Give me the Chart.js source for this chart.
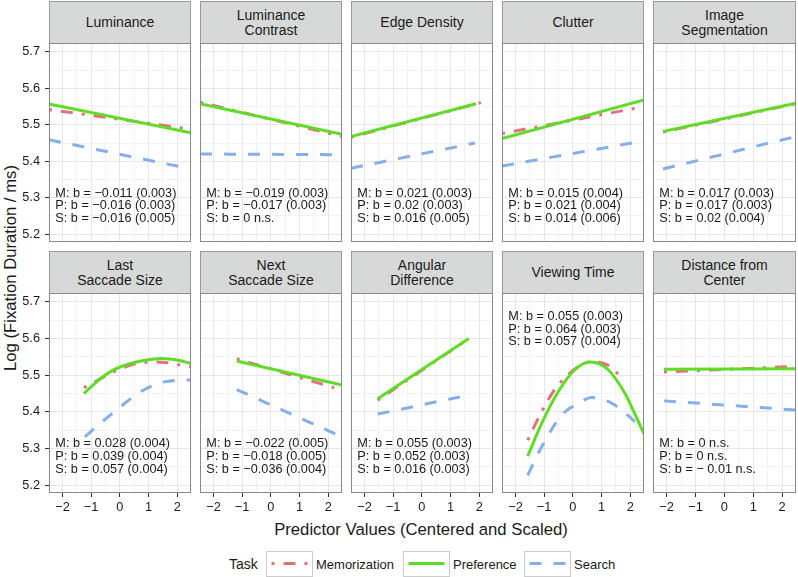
<!DOCTYPE html>
<html><head><meta charset="utf-8">
<script src="https://cdn.jsdelivr.net/npm/chart.js@4/dist/chart.umd.min.js"></script>
<style>
html,body{margin:0;padding:0;background:#fff;}
body{width:798px;height:577px;overflow:hidden;position:relative;font-family:"Liberation Sans",Arial,Helvetica,sans-serif;color:#1a1a1a;}
.strip{position:absolute;box-sizing:border-box;background:#d7d9d9;border:1px solid #9a9a9a;display:flex;align-items:center;justify-content:center;text-align:center;font-size:14px;line-height:14.3px;white-space:pre-line;color:#1a1a1a;}
canvas{position:absolute;}
.ytitle{position:absolute;left:11px;top:268px;transform:translate(-50%,-50%) rotate(-90deg);font-size:16.7px;white-space:nowrap;}
.xtitle{position:absolute;left:421px;top:530px;transform:translate(-50%,-50%);font-size:16.7px;white-space:nowrap;}
.legtxt{position:absolute;top:563.5px;transform:translateY(-50%);font-size:13px;white-space:nowrap;}
.legtitle{position:absolute;top:563.5px;transform:translateY(-50%);font-size:14px;white-space:nowrap;}
svg.key{position:absolute;top:551px;}
</style></head><body>
<div class="ytitle">Log (Fixation Duration / ms)</div>
<div class="xtitle">Predictor Values (Centered and Scaled)</div>
<script>
// ---------- data ----------
const taskNames = ['Memorization', 'Preference', 'Search'];
const panelTitles = ['Luminance', 'Luminance\nContrast', 'Edge Density', 'Clutter', 'Image\nSegmentation',
  'Last\nSaccade Size', 'Next\nSaccade Size', 'Angular\nDifference', 'Viewing Time', 'Distance from\nCenter'];
const xTickValues = [-2, -1, 0, 1, 2];
const xTickLabels = ['\u22122', '\u22121', '0', '1', '2'];
const xMinorValues = [-1.5, -0.5, 0.5, 1.5];
const yTickValues = [5.2, 5.3, 5.4, 5.5, 5.6, 5.7];
const yTickLabels = ['5.2', '5.3', '5.4', '5.5', '5.6', '5.7'];
const yMinorValues = [5.25, 5.35, 5.45, 5.55, 5.65];

const luminanceMem = [[-2.47, 5.542], [2.48, 5.488]];
const luminancePref = [[-2.47, 5.557], [2.48, 5.478]];
const luminanceSearch = [[-2.47, 5.459], [2.48, 5.379]];
const contrastMem = [[-2.47, 5.562], [2.48, 5.468]];
const contrastPref = [[-2.47, 5.558], [2.48, 5.474]];
const contrastSearch = [[-2.47, 5.420], [2.48, 5.418]];
const edgeMem = [[-2.47, 5.466], [2.06, 5.561]];
const edgePref = [[-2.47, 5.468], [1.89, 5.558]];
const edgeSearch = [[-2.47, 5.381], [1.85, 5.450]];
const clutterMem = [[-2.47, 5.476], [2.48, 5.550]];
const clutterPref = [[-2.47, 5.462], [2.48, 5.568]];
const clutterSearch = [[-2.47, 5.387], [2.48, 5.456]];
const segMem = [[-2.12, 5.480], [2.48, 5.558]];
const segPref = [[-2.12, 5.482], [2.48, 5.559]];
const segSearch = [[-2.12, 5.379], [2.48, 5.468]];
const lastSacMem = [[-1.25, 5.466], [-0.87, 5.482], [-0.58, 5.495], [0.06, 5.519], [0.47, 5.530], [0.875, 5.535], [1.3, 5.536], [1.57, 5.535], [2.04, 5.529], [2.48, 5.523]];
const lastSacPref = [[-1.25, 5.450], [-0.87, 5.478], [-0.285, 5.512], [0.293, 5.530], [0.875, 5.541], [1.46, 5.546], [2.04, 5.541], [2.48, 5.532]];
const lastSacSearch = [[-1.22, 5.332], [-0.69, 5.368], [-0.055, 5.409], [0.70, 5.454], [1.40, 5.479], [1.95, 5.486], [2.48, 5.487]];
const nextSacMem = [[-1.19, 5.545], [2.2, 5.466]];
const nextSacPref = [[-1.19, 5.539], [2.48, 5.473]];
const nextSacSearch = [[-1.19, 5.461], [2.3, 5.338]];
const angularMem = [[-1.54, 5.432], [1.64, 5.600]];
const angularPref = [[-1.54, 5.436], [1.64, 5.600]];
const angularSearch = [[-1.54, 5.394], [1.34, 5.441]];
const viewMem = [[-1.575, 5.323], [-1.09, 5.400], [-0.65, 5.459], [0.07, 5.517], [0.6, 5.536], [1.23, 5.527], [1.79, 5.486]];
const viewPref = [[-1.575, 5.279], [-1.09, 5.368], [-0.51, 5.455], [0.07, 5.515], [0.6, 5.536], [1.23, 5.515], [1.82, 5.450], [2.1, 5.405], [2.48, 5.340]];
const viewSearch = [[-1.575, 5.227], [-1.09, 5.304], [-0.39, 5.391], [0.19, 5.423], [0.65, 5.439], [1.35, 5.424], [2.04, 5.382], [2.16, 5.373]];
const distMem = [[-2.09, 5.509], [2.19, 5.523]];
const distPref = [[-2.09, 5.516], [2.48, 5.518]];
const distSearch = [[-2.09, 5.430], [2.48, 5.405]];

const luminanceNotes = ['M: b = \u22120.011 (0.003)', 'P: b = \u22120.016 (0.003)', 'S: b = \u22120.016 (0.005)'];
const contrastNotes = ['M: b = \u22120.019 (0.003)', 'P: b = \u22120.017 (0.003)', 'S: b = 0 n.s.'];
const edgeNotes = ['M: b = 0.021 (0.003)', 'P: b = 0.02 (0.003)', 'S: b = 0.016 (0.005)'];
const clutterNotes = ['M: b = 0.015 (0.004)', 'P: b = 0.021 (0.004)', 'S: b = 0.014 (0.006)'];
const segNotes = ['M: b = 0.017 (0.003)', 'P: b = 0.017 (0.003)', 'S: b = 0.02 (0.004)'];
const lastSacNotes = ['M: b = 0.028 (0.004)', 'P: b = 0.039 (0.004)', 'S: b = 0.057 (0.004)'];
const nextSacNotes = ['M: b = \u22120.022 (0.005)', 'P: b = \u22120.018 (0.005)', 'S: b = \u22120.036 (0.004)'];
const angularNotes = ['M: b = 0.055 (0.003)', 'P: b = 0.052 (0.003)', 'S: b = 0.016 (0.003)'];
const viewNotes = ['M: b = 0.055 (0.003)', 'P: b = 0.064 (0.003)', 'S: b = 0.057 (0.004)'];
const distNotes = ['M: b = 0 n.s.', 'P: b = 0 n.s.', 'S: b = \u2212 0.01 n.s.'];

// ---------- assembly ----------
const panelSeries = [
  [luminanceMem, luminancePref, luminanceSearch],
  [contrastMem, contrastPref, contrastSearch],
  [edgeMem, edgePref, edgeSearch],
  [clutterMem, clutterPref, clutterSearch],
  [segMem, segPref, segSearch],
  [lastSacMem, lastSacPref, lastSacSearch],
  [nextSacMem, nextSacPref, nextSacSearch],
  [angularMem, angularPref, angularSearch],
  [viewMem, viewPref, viewSearch],
  [distMem, distPref, distSearch]
];
const panelNotes = [luminanceNotes, contrastNotes, edgeNotes, clutterNotes, segNotes,
  lastSacNotes, nextSacNotes, angularNotes, viewNotes, distNotes];
const noteYs = [5.278, 5.278, 5.278, 5.278, 5.278, 5.278, 5.278, 5.278, 5.626, 5.278];

const FONT = '"Liberation Sans", Arial, Helvetica, sans-serif';
const taskStyles = [
  {color: '#e6707a', width: 3, dash: [3, 9, 12, 9], order: 3},
  {color: '#5fdc26', width: 3, dash: [], order: 2},
  {color: '#85aeea', width: 3, dash: [12, 12], order: 1}
];

const deco = {
  id: 'deco',
  afterDatasetsDraw(chart, args, o) {
    const ctx = chart.ctx, a = chart.chartArea;
    ctx.save();
    ctx.font = '12.7px ' + FONT;
    ctx.fillStyle = '#1a1a1a';
    ctx.textBaseline = 'middle';
    ctx.textAlign = 'left';
    const x = chart.scales.x.getPixelForValue(-2.25);
    const yc = chart.scales.y.getPixelForValue(o.noteY);
    for (let i = 0; i < o.notes.length; i++) ctx.fillText(o.notes[i], x, yc + (i - 1) * 12.6);
    ctx.strokeStyle = '#8a8a8a';
    ctx.lineWidth = 1;
    ctx.strokeRect(a.left + 0.5, a.top + 0.5, a.right - a.left - 1, a.bottom - a.top - 1);
    ctx.restore();
  }
};

const isXMajor = v => Math.abs(v - Math.round(v)) < 1e-6;
const isYMajor = v => Math.abs(v * 10 - Math.round(v * 10)) < 1e-6;

for (let idx = 0; idx < 10; idx++) {
  const r = Math.floor(idx / 5), c = idx % 5;
  const L = 49 + c * 151, T = r ? 293 : 43;
  const W = c === 4 ? 143 : 142, H = r ? 200 : 199;
  const padL = c === 0 ? 49 : 0, padB = r ? 26 : 0;

  const strip = document.createElement('div');
  strip.className = 'strip';
  strip.style.left = L + 'px';
  strip.style.top = (T - 42) + 'px';
  strip.style.width = W + 'px';
  strip.style.height = '43px';
  strip.textContent = panelTitles[idx];
  document.body.appendChild(strip);

  const cv = document.createElement('canvas');
  cv.width = W + padL; cv.height = H + padB;
  cv.style.left = (L - padL) + 'px';
  cv.style.top = T + 'px';
  cv.style.width = (W + padL) + 'px';
  cv.style.height = (H + padB) + 'px';
  document.body.appendChild(cv);

  const datasets = panelSeries[idx].map((pts, k) => ({
    label: taskNames[k],
    data: pts.map(p => ({x: p[0], y: p[1]})),
    borderColor: taskStyles[k].color,
    borderWidth: taskStyles[k].width,
    borderDash: taskStyles[k].dash,
    borderCapStyle: 'butt',
    borderJoinStyle: 'round',
    cubicInterpolationMode: 'monotone',
    pointRadius: 0,
    fill: false,
    clip: 0,
    order: taskStyles[k].order
  }));

  new Chart(cv, {
    type: 'line',
    data: {datasets},
    plugins: [deco],
    options: {
      responsive: false, animation: false, devicePixelRatio: 1,
      layout: {padding: 0},
      events: [],
      plugins: {legend: {display: false}, tooltip: {enabled: false},
        deco: {notes: panelNotes[idx], noteY: noteYs[idx]}},
      scales: {
        x: {
          type: 'linear', min: -2.47, max: 2.48,
          afterBuildTicks: s => { s.ticks = xTickValues.concat(xMinorValues).sort((a, b) => a - b).map(v => ({value: v})); },
          afterFit: s => { s.height = padB; s.paddingLeft = 0; s.paddingRight = 0; s.paddingTop = 0; s.paddingBottom = 0; },
          border: {display: false},
          grid: {
            color: ctx => (ctx.tick && isXMajor(ctx.tick.value)) ? '#e6e6e6' : '#f2f2f2',
            lineWidth: 1,
            drawTicks: r === 1, tickLength: 4,
            tickColor: ctx => (ctx.tick && isXMajor(ctx.tick.value)) ? '#333333' : 'rgba(0,0,0,0)'
          },
          ticks: {
            display: r === 1, autoSkip: false, maxRotation: 0, padding: 3,
            color: '#1a1a1a', font: {family: FONT, size: 12.8},
            callback: v => { const i = xTickValues.findIndex(t => Math.abs(t - v) < 1e-6); return i >= 0 ? xTickLabels[i] : ''; }
          }
        },
        y: {
          type: 'linear', min: 5.1785, max: 5.7245,
          afterBuildTicks: s => { s.ticks = yTickValues.concat(yMinorValues).sort((a, b) => a - b).map(v => ({value: v})); },
          afterFit: s => { s.width = padL; s.paddingLeft = 0; s.paddingRight = 0; s.paddingTop = 0; s.paddingBottom = 0; },
          border: {display: false},
          grid: {
            color: ctx => (ctx.tick && isYMajor(ctx.tick.value)) ? '#e6e6e6' : '#f2f2f2',
            lineWidth: 1,
            drawTicks: c === 0, tickLength: 4,
            tickColor: ctx => (ctx.tick && isYMajor(ctx.tick.value)) ? '#333333' : 'rgba(0,0,0,0)'
          },
          ticks: {
            display: c === 0, autoSkip: false, padding: 5,
            color: '#1a1a1a', font: {family: FONT, size: 12.8},
            callback: v => { const i = yTickValues.findIndex(t => Math.abs(t - v) < 1e-6); return i >= 0 ? yTickLabels[i] : ''; }
          }
        }
      }
    }
  });
}

// ---------- legend ----------
function addText(cls, txt, left) {
  const d = document.createElement('div');
  d.className = cls; d.textContent = txt; d.style.left = left + 'px';
  document.body.appendChild(d);
}
addText('legtitle', 'Task', 229);
const keyLefts = [266, 403, 524];
const textLefts = [316, 453, 574];
const svgNS = 'http://www.w3.org/2000/svg';
for (let k = 0; k < 3; k++) {
  const svg = document.createElementNS(svgNS, 'svg');
  svg.setAttribute('class', 'key');
  svg.setAttribute('width', '47'); svg.setAttribute('height', '26');
  svg.style.left = keyLefts[k] + 'px';
  const rect = document.createElementNS(svgNS, 'rect');
  rect.setAttribute('x', '0.5'); rect.setAttribute('y', '0.5');
  rect.setAttribute('width', '46'); rect.setAttribute('height', '25');
  rect.setAttribute('fill', '#ffffff'); rect.setAttribute('stroke', '#cccccc');
  svg.appendChild(rect);
  const ln = document.createElementNS(svgNS, 'line');
  ln.setAttribute('x1', '5.5'); ln.setAttribute('x2', '41.5');
  ln.setAttribute('y1', '12.5'); ln.setAttribute('y2', '12.5');
  ln.setAttribute('stroke', taskStyles[k].color);
  ln.setAttribute('stroke-width', String(taskStyles[k].width));
  if (taskStyles[k].dash.length) ln.setAttribute('stroke-dasharray', taskStyles[k].dash.join(' '));
  svg.appendChild(ln);
  document.body.appendChild(svg);
  addText('legtxt', taskNames[k], textLefts[k]);
}
</script>
</body></html>
